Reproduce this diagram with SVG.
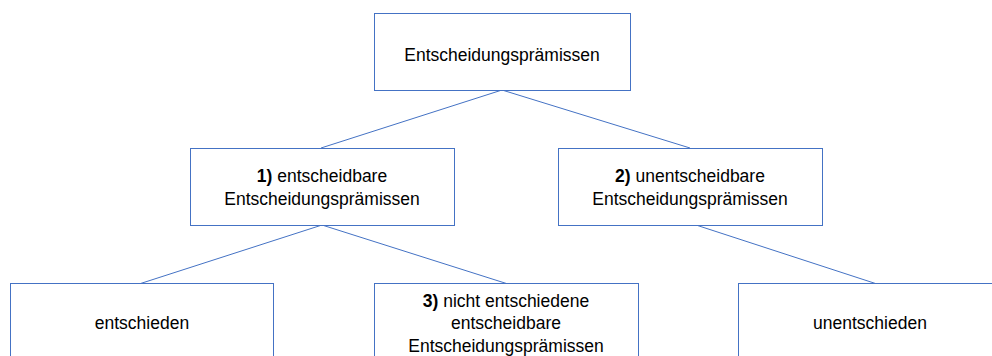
<svg xmlns="http://www.w3.org/2000/svg" width="992" height="356" viewBox="0 0 992 356">
<style>
.box{fill:#fff;stroke:#4472C4;stroke-width:1}
.ln{stroke:#4472C4;stroke-width:1;fill:none}
text{font-family:"Liberation Sans",Arial,sans-serif;font-size:17.5px;fill:#000;text-anchor:middle}
.b{font-weight:bold}
</style>
<rect width="992" height="356" fill="#fff"/>
<g id="connectors">
<line class="ln" x1="502" y1="90" x2="321" y2="148"/>
<line class="ln" x1="502" y1="90" x2="690" y2="148"/>
<line class="ln" x1="322" y1="225" x2="139" y2="284"/>
<line class="ln" x1="322" y1="225" x2="508" y2="284"/>
<line class="ln" x1="696" y1="225" x2="877" y2="284"/>
</g>
<g id="root">
<rect class="box" x="374.5" y="13.5" width="256" height="77"/>
<text x="502" y="61">Entscheidungsprämissen</text>
</g>
<g id="n1">
<rect class="box" x="190.5" y="148.5" width="264" height="77"/>
<text x="322" y="182"><tspan class="b">1)</tspan> entscheidbare</text>
<text x="322" y="205">Entscheidungsprämissen</text>
</g>
<g id="n2">
<rect class="box" x="558.5" y="148.5" width="264" height="77"/>
<text x="690" y="182"><tspan class="b">2)</tspan> unentscheidbare</text>
<text x="690" y="205">Entscheidungsprämissen</text>
</g>
<g id="n_entschieden">
<rect class="box" x="10.5" y="283.5" width="263" height="80"/>
<text x="142" y="329">entschieden</text>
</g>
<g id="n3">
<rect class="box" x="374.5" y="283.5" width="264" height="80"/>
<text x="506" y="307"><tspan class="b">3)</tspan> nicht entschiedene</text>
<text x="506" y="329">entscheidbare</text>
<text x="506" y="352">Entscheidungsprämissen</text>
</g>
<g id="n_unentschieden">
<rect class="box" x="738.5" y="283.5" width="264" height="80"/>
<text x="870" y="329">unentschieden</text>
</g>
</svg>
